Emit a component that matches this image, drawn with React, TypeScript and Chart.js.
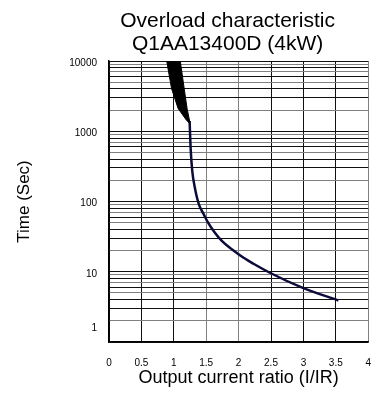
import React, { useEffect, useRef } from "react";
import { Chart, registerables } from "chart.js";

Chart.register(...registerables);

const titleLines = ["Overload characteristic", "Q1AA13400D (4kW)"];
const xAxisTitle = "Output current ratio (I/IR)";
const yAxisTitle = "Time (Sec)";

const xTickValues = [0, 0.5, 1, 1.5, 2, 2.5, 3, 3.5, 4];
const xTickLabels = ["0", "0.5", "1", "1.5", "2", "2.5", "3", "3.5", "4"];
const xGridDark = [true, true, true, false, false, true, true, true, false];

const yLabelValues = [10000, 1000, 100, 10, 1.7];
const yTickLabels = ["10000", "1000", "100", "10", "1"];
const yDecades = [1, 10, 100, 1000];
const yMantissas = [1, 2, 3, 4, 5, 6, 7, 8, 9];
const yMantissaDark = [true, false, true, true, false, true, false, true, false];

// main characteristic curve
const curveX = [1.244, 1.259, 1.285, 1.325, 1.387, 1.463, 1.515, 1.617, 1.745, 1.9, 2.077, 2.23, 2.49, 2.99, 3.54];
const curveY = [1400, 585, 271, 157, 91, 65.5, 52.5, 37.8, 27.2, 20.7, 15.8, 13.0, 9.6, 5.9, 3.9];

// black tolerance band (left edge top->down, right edge bottom->up)
const bandLeftX = [0.89, 0.965, 1.066, 1.195, 1.246];
const bandLeftY = [10000, 4060, 2110, 1440, 1290];
const bandRightX = [1.246, 1.205, 1.16, 1.1];
const bandRightY = [1370, 2110, 4060, 10000];

const FONT = '"Liberation Sans", Arial, sans-serif';

export default function App() {
  const canvasRef = useRef<HTMLCanvasElement | null>(null);

  useEffect(() => {
    if (!canvasRef.current) return;

    const yGridValues: number[] = [];
    yDecades.forEach((d) => yMantissas.forEach((m) => yGridValues.push(d * m)));
    yGridValues.push(10000);
    yGridValues.push(yLabelValues[yLabelValues.length - 1]);

    const bandPoints = [
      ...bandLeftX.map((x, i) => ({ x, y: bandLeftY[i] })),
      ...bandRightX.map((x, i) => ({ x, y: bandRightY[i] })),
    ];
    const curvePoints = curveX.map((x, i) => ({ x, y: curveY[i] }));

    const titlePlugin = {
      id: "customTitle",
      afterDraw(chart: any) {
        const { ctx, chartArea } = chart;
        ctx.save();
        ctx.font = `21px ${FONT}`;
        ctx.fillStyle = "#000";
        ctx.textAlign = "center";
        ctx.textBaseline = "middle";
        const cx = (chartArea.left + chartArea.right) / 2 - 11;
        titleLines.forEach((t, i) => ctx.fillText(t, cx, 13 + i * 23));
        ctx.restore();
      },
    };

    const mantissaOf = (v: number) => {
      const e = Math.floor(Math.log10(v) + 1e-9);
      return Math.round(v / Math.pow(10, e));
    };

    const chart = new Chart(canvasRef.current, {
      type: "line",
      data: {
        datasets: [
          {
            data: bandPoints,
            borderColor: "#000",
            backgroundColor: "#000",
            borderWidth: 1,
            pointRadius: 0,
            tension: 0,
            fill: "shape" as any,
          },
          {
            data: curvePoints,
            borderColor: "#0c0c3a",
            borderWidth: 2.5,
            pointRadius: 0,
            cubicInterpolationMode: "monotone",
            fill: false,
          },
        ],
      },
      options: {
        animation: false,
        responsive: true,
        maintainAspectRatio: false,
        layout: { padding: { top: 53, right: 2, left: 0, bottom: 0 } },
        plugins: {
          legend: { display: false },
          title: { display: false },
          tooltip: { enabled: false },
        },
        scales: {
          x: {
            type: "linear",
            min: 0,
            max: 4,
            afterBuildTicks: (s: any) => {
              s.ticks = xTickValues.map((v) => ({ value: v }));
            },
            afterFit: (s: any) => {
              s.height = 52;
            },
            ticks: {
              autoSkip: false,
              maxRotation: 0,
              padding: 0,
              color: "#000",
              font: { size: 10, family: FONT },
              callback: (v: any) => {
                const i = xTickValues.indexOf(Number(v));
                return i >= 0 ? xTickLabels[i] : "";
              },
            },
            grid: {
              drawTicks: true,
              tickLength: 15,
              tickColor: "rgba(0,0,0,0)",
              lineWidth: 1,
              color: (ctx: any) => {
                const v = ctx.tick ? ctx.tick.value : 0;
                const i = xTickValues.indexOf(v);
                return i >= 0 && xGridDark[i] ? "#111" : "#808080";
              },
            },
            border: { color: "#000", width: 1.5 },
            title: {
              display: true,
              text: xAxisTitle,
              color: "#000",
              font: { size: 18, family: FONT },
              padding: { top: 0, bottom: 5 },
            },
          },
          y: {
            type: "logarithmic",
            min: 1,
            max: 10000,
            afterBuildTicks: (s: any) => {
              s.ticks = yGridValues.map((v) => ({ value: v }));
            },
            afterFit: (s: any) => {
              s.width = 101;
            },
            ticks: {
              autoSkip: false,
              padding: 0,
              labelOffset: 2,
              color: "#000",
              font: { size: 10, family: FONT },
              callback: (v: any) => {
                const i = yLabelValues.indexOf(Number(v));
                return i >= 0 ? yTickLabels[i] : "";
              },
            },
            grid: {
              drawTicks: true,
              tickLength: 12,
              tickColor: "rgba(0,0,0,0)",
              lineWidth: 1,
              color: (ctx: any) => {
                const v = ctx.tick ? ctx.tick.value : 1;
                if (v === yLabelValues[yLabelValues.length - 1]) return "rgba(0,0,0,0)";
                const m = mantissaOf(v);
                return yMantissaDark[m - 1] ? "#111" : "#808080";
              },
            },
            border: { color: "#000", width: 1.5 },
            title: {
              display: true,
              text: yAxisTitle,
              color: "#000",
              font: { size: 17, family: FONT },
              padding: { top: 6, bottom: 0 },
            },
          },
        },
      },
      plugins: [titlePlugin],
    });

    return () => chart.destroy();
  }, []);

  return (
    <div style={{ position: "absolute", left: 8, top: 8, width: 363, height: 386 }}>
      <canvas ref={canvasRef} />
    </div>
  );
}
